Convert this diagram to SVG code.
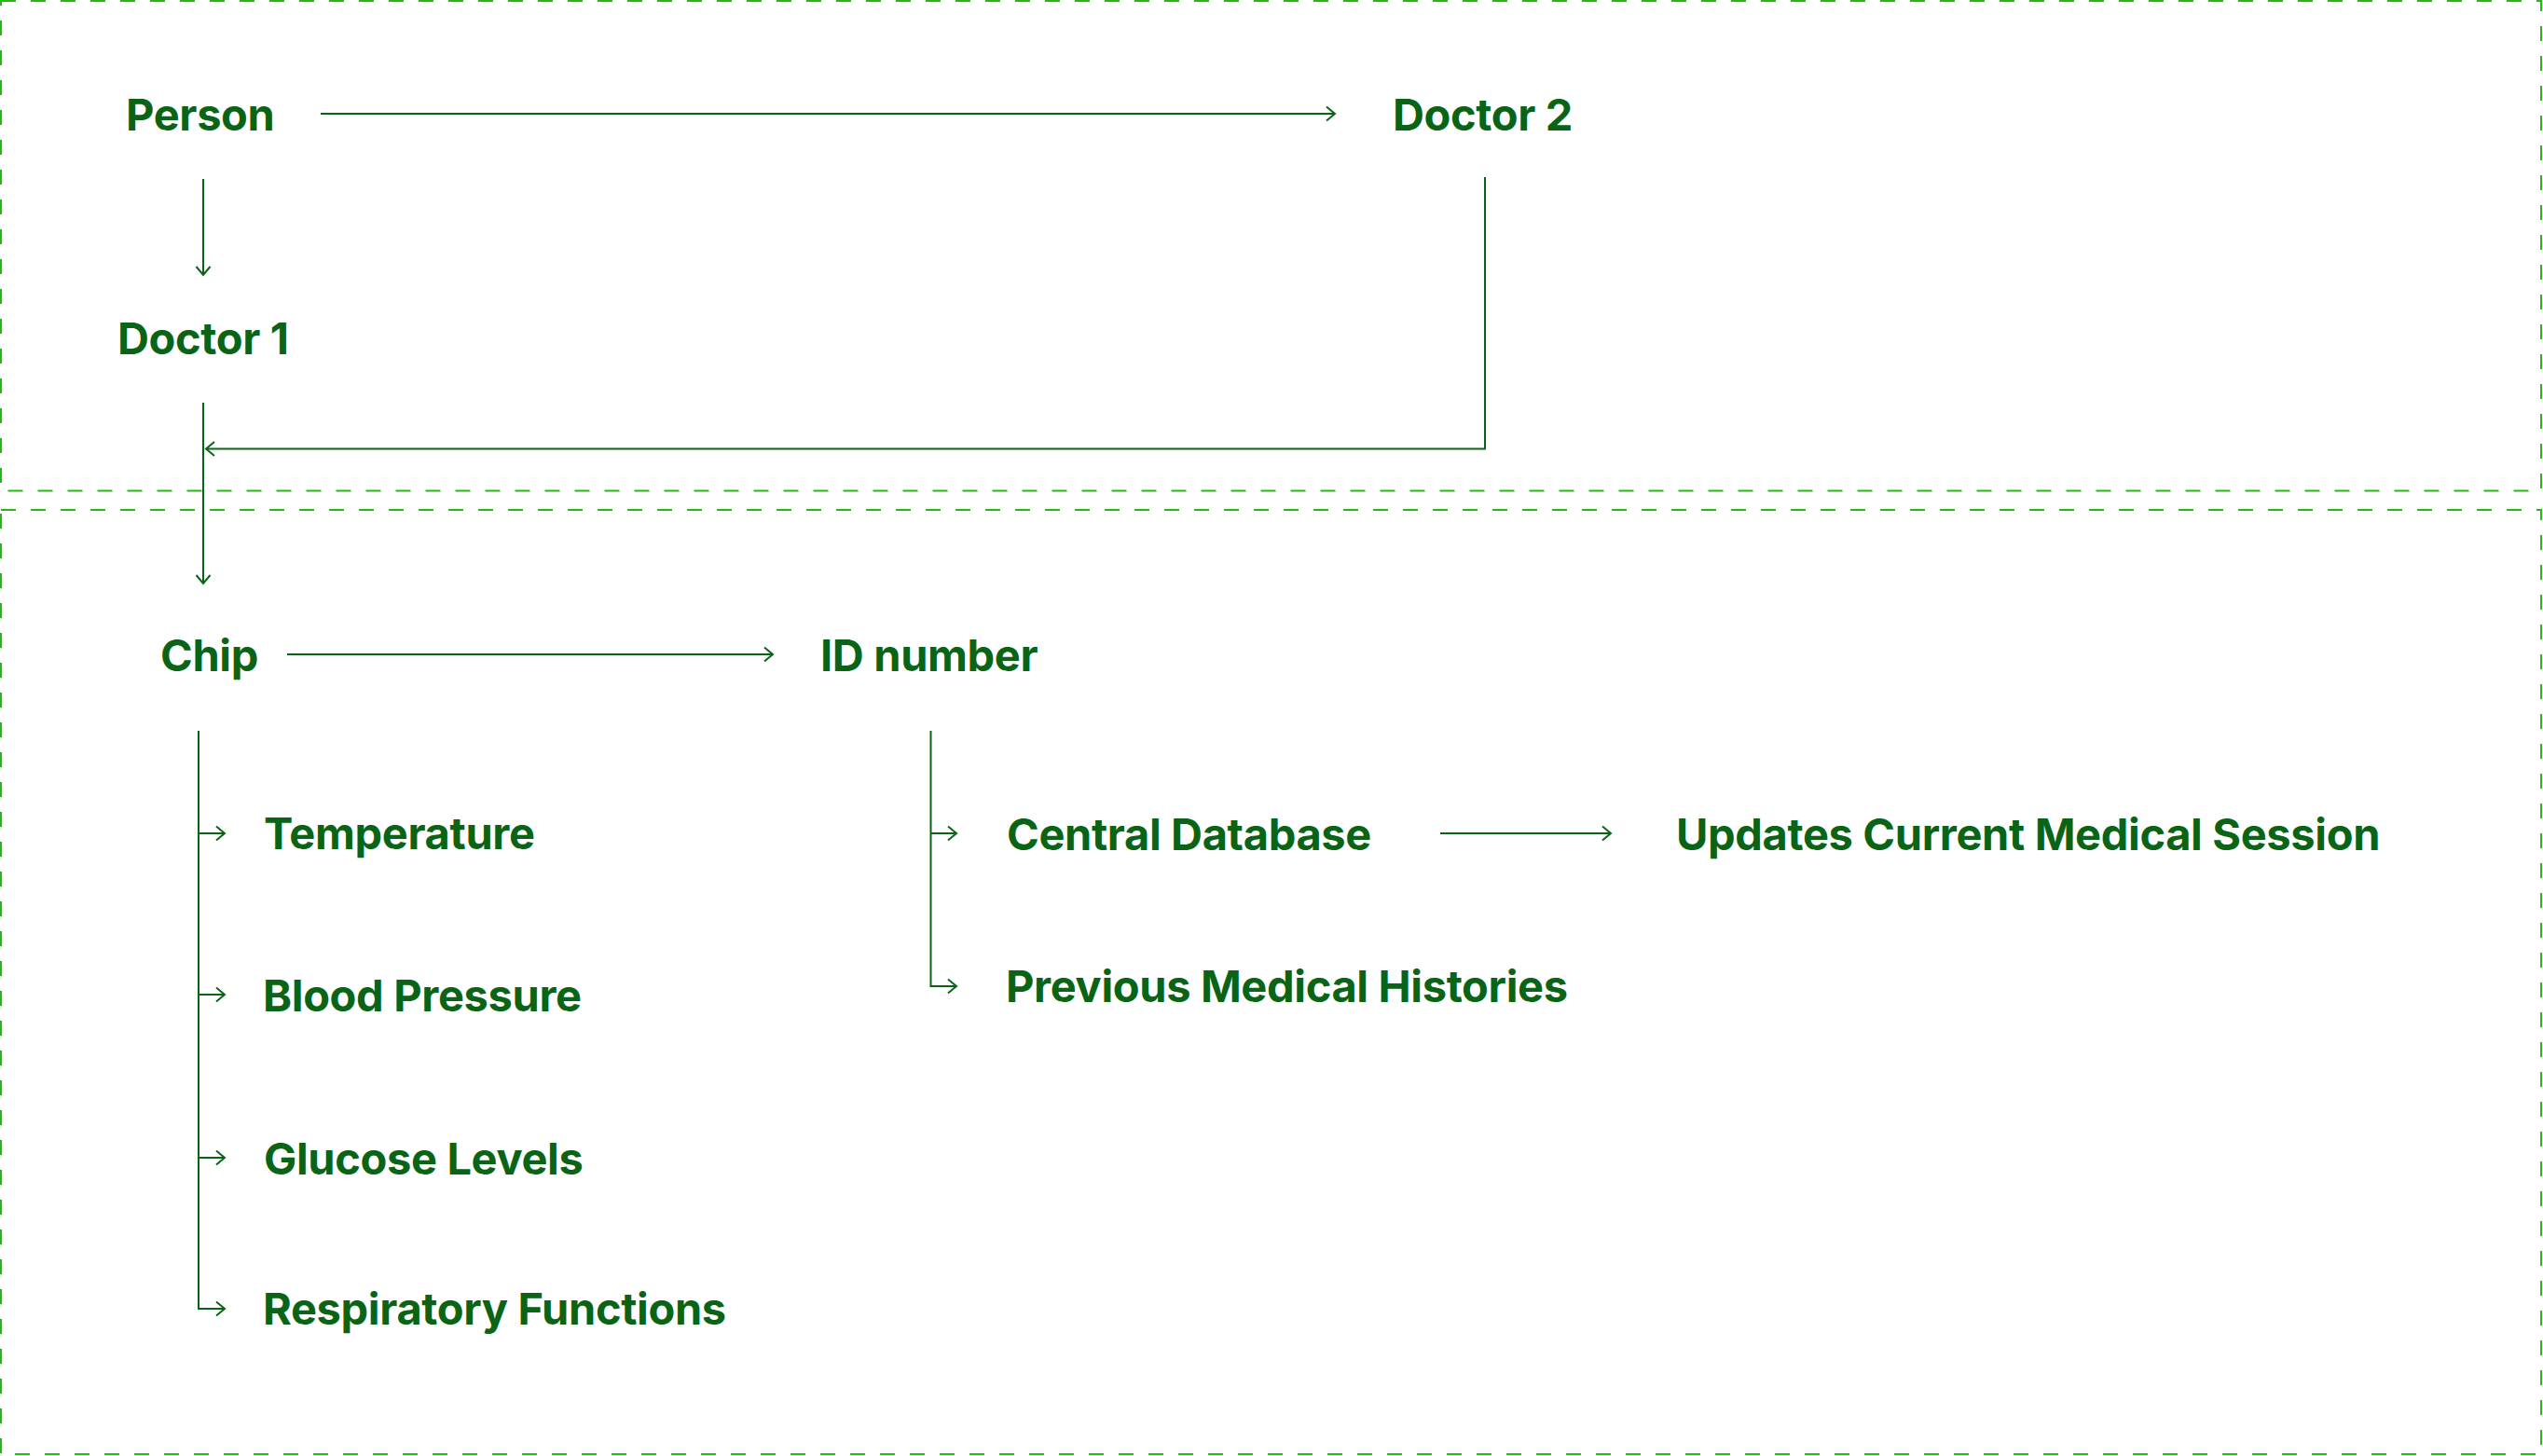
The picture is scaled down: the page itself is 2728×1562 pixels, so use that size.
<svg xmlns="http://www.w3.org/2000/svg" width="2728" height="1562" viewBox="0 0 2728 1562">
<defs>
<style>
.frame{fill:none;stroke:#22bb11;stroke-width:2;stroke-dasharray:16 16}
.edge{fill:none;stroke:#0a6415;stroke-width:2}
.lbl{font-family:Inter,"Noto Sans",sans-serif;font-weight:700;font-size:47px;letter-spacing:-0.35px;fill:#0a6415}
</style>
<marker id="arr" markerUnits="userSpaceOnUse" markerWidth="20" markerHeight="20" viewBox="-12 -10 14 20" refX="0" refY="0" orient="auto">
<path d="M-9,-7.5 L0,0 L-9,7.5" fill="none" stroke="#0a6415" stroke-width="2"/>
</marker>
</defs>
<rect width="2728" height="1562" fill="#ffffff"/>
<g id="frames">
<rect class="frame" x="1" y="1" width="2725" height="525.5"/>
<rect class="frame" x="1" y="547" width="2725" height="1013"/>
</g>
<g id="connectors">
<path class="edge" d="M344,122 H1432" marker-end="url(#arr)"/>
<path class="edge" d="M218,192 V295" marker-end="url(#arr)"/>
<path class="edge" d="M1593,190 V481.5 H221" marker-end="url(#arr)"/>
<path class="edge" d="M218,432 V626" marker-end="url(#arr)"/>
<path class="edge" d="M308,702 H829" marker-end="url(#arr)"/>
<path class="edge" d="M213,784 V1404 H241" marker-end="url(#arr)"/>
<path class="edge" d="M213,894 H241" marker-end="url(#arr)"/>
<path class="edge" d="M213,1067 H241" marker-end="url(#arr)"/>
<path class="edge" d="M213,1242 H241" marker-end="url(#arr)"/>
<path class="edge" d="M998.5,784 V1058 H1026" marker-end="url(#arr)"/>
<path class="edge" d="M998.5,894 H1026" marker-end="url(#arr)"/>
<path class="edge" d="M1545,894 H1728" marker-end="url(#arr)"/>
</g>
<g id="node-person"><text class="lbl" x="135" y="140">Person</text></g>
<g id="node-doctor2"><text class="lbl" x="1494" y="140">Doctor 2</text></g>
<g id="node-doctor1"><text class="lbl" x="126" y="380">Doctor 1</text></g>
<g id="node-chip"><text class="lbl" x="172" y="720">Chip</text></g>
<g id="node-id"><text class="lbl" x="880" y="720">ID number</text></g>
<g id="node-temperature"><text class="lbl" x="283" y="911">Temperature</text></g>
<g id="node-bp"><text class="lbl" x="282" y="1085">Blood Pressure</text></g>
<g id="node-glucose"><text class="lbl" x="283" y="1260">Glucose Levels</text></g>
<g id="node-resp"><text class="lbl" x="282" y="1421">Respiratory Functions</text></g>
<g id="node-central"><text class="lbl" x="1080" y="911.5">Central Database</text></g>
<g id="node-previous"><text class="lbl" x="1079" y="1075">Previous Medical Histories</text></g>
<g id="node-updates"><text class="lbl" x="1798" y="911.5">Updates Current Medical Session</text></g>
</svg>
